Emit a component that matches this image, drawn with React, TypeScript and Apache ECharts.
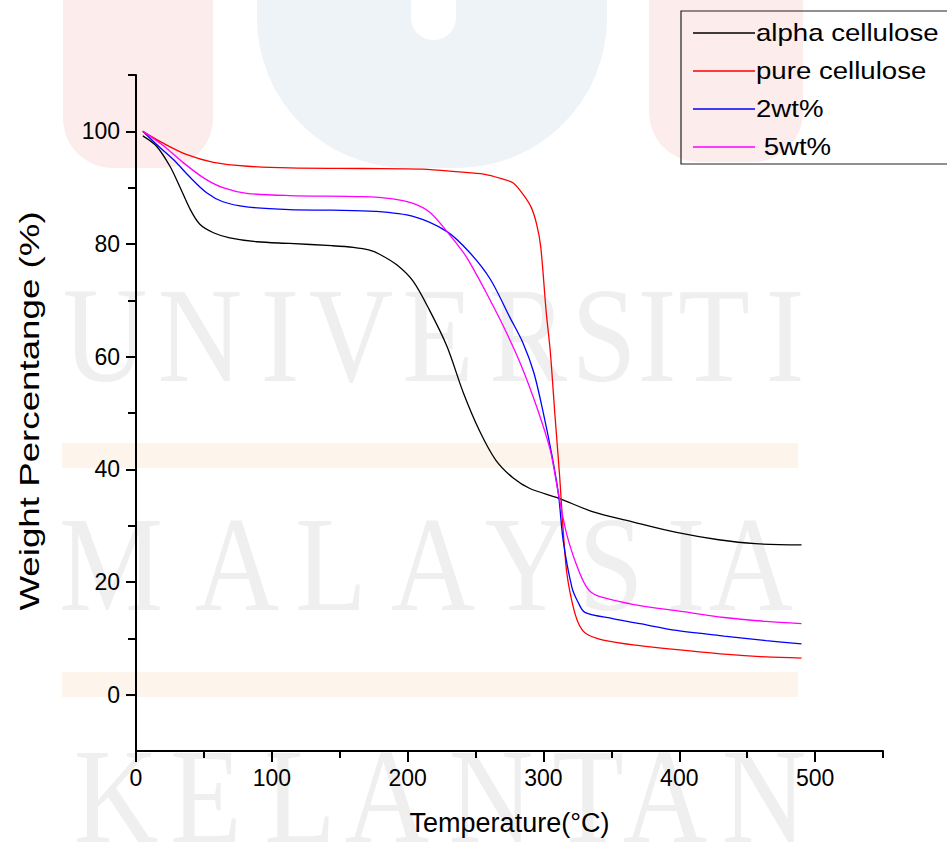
import React, { useEffect, useRef } from "react";
import * as echarts from "echarts";

// ---- Data ----
const SERIES_NAMES = ["alpha cellulose", "pure cellulose", "2wt%", " 5wt%"];
const SERIES_COLORS = ["#000000", "#ff0000", "#0000ff", "#ff00ff"];

const alphaTemp = [5, 15, 25, 32, 40, 47, 57, 69, 89, 113, 144, 160, 172, 180, 192, 204, 216, 229, 241, 253, 265, 278, 290, 311, 336, 367, 398, 429, 456, 490];
const alphaWeight = [99.2, 97.4, 93.8, 90.3, 86.1, 83.5, 82.0, 81.1, 80.4, 80.1, 79.7, 79.4, 78.9, 78.1, 76.3, 73.4, 68.3, 61.8, 53.6, 46.8, 41.6, 38.4, 36.6, 34.9, 32.5, 30.6, 28.8, 27.5, 26.8, 26.6];

const pureTemp = [5, 20, 37, 57, 82, 113, 167, 211, 238, 256, 269, 278, 285, 291, 295, 298, 302, 305, 308.5, 312, 314, 317, 321, 325.5, 331, 344, 371, 398, 433, 464, 490];
const pureWeight = [100, 97.9, 95.9, 94.5, 93.8, 93.5, 93.4, 93.3, 92.8, 92.4, 91.6, 90.8, 88.8, 86.5, 83.5, 79.5, 68.0, 61.0, 49.5, 38.5, 31.0, 22.0, 16.5, 12.8, 10.9, 9.7, 8.7, 8.0, 7.2, 6.7, 6.5];

const wt2Temp = [5, 15, 27.5, 40, 52, 64, 81.5, 113, 144, 176, 204, 229, 246, 261, 275, 285, 293, 300, 306, 311, 314.5, 321, 325.5, 330.5, 351, 371, 398, 433, 464, 490];
const wt2Weight = [100, 97.7, 95.0, 91.8, 89.1, 87.5, 86.6, 86.1, 86.0, 85.8, 84.9, 82.2, 78.4, 73.7, 67.1, 62.4, 57.1, 49.9, 42.8, 35.7, 27.4, 19.0, 16.4, 14.6, 13.5, 12.6, 11.4, 10.4, 9.6, 9.0];

const wt5Temp = [5, 20, 35, 50, 64, 81.5, 113, 167, 189, 204, 216.5, 229, 241, 246, 258, 270.5, 283, 295, 305, 311, 317, 325, 332, 339.5, 371, 398, 433, 464, 490];
const wt5Weight = [100, 97.5, 94.4, 91.7, 90.0, 89.0, 88.6, 88.4, 88.0, 87.2, 85.6, 82.2, 78.5, 76.6, 71.3, 65.4, 58.8, 51.1, 43.4, 35.7, 28.6, 22.6, 19.0, 17.6, 15.8, 14.9, 13.7, 13.0, 12.6];

const xMajorTicks = [0, 100, 200, 300, 400, 500];
const xMinorTicks = [50, 150, 250, 350, 450, 550];
const yMajorTicks = [0, 20, 40, 60, 80, 100];
const yMinorTicks = [10, 30, 50, 70, 90, 110];

const X_NAME = "Temperature(\u00B0C)";
const Y_NAME = "Weight Percentange (%)";

// Faint background watermark of the source document
const WATERMARK_WORDS = ["UNIVERSITI", "MALAYSIA", "KELANTAN"];

const FONT = "'Liberation Sans', Arial, Helvetica, sans-serif";

function pairs(t: number[], w: number[]) {
  return t.map((v, i) => [v, w[i]]);
}

export default function App() {
  const ref = useRef<HTMLDivElement>(null);

  useEffect(() => {
    if (!ref.current) return;
    const chart = echarts.init(ref.current, undefined, { renderer: "svg" });

    // watermark layout (decorative)
    const wmRows = [
      { word: WATERMARK_WORDS[0], y: 335, xs: [105, 200, 280, 351, 438, 528, 604, 657, 714, 785] },
      { word: WATERMARK_WORDS[1], y: 564, xs: [111, 237, 331, 433, 527, 611, 686, 751] },
      { word: WATERMARK_WORDS[2], y: 796, xs: [116, 206, 300, 387, 491, 588, 665, 764] },
    ];
    const wmText: any[] = [];
    wmRows.forEach((row) => {
      row.word.split("").forEach((ch, i) => {
        wmText.push({
          type: "text",
          x: row.xs[i],
          y: row.y,
          scaleX: 0.86,
          z: -10,
          silent: true,
          style: {
            text: ch,
            font: "136px 'Liberation Serif', 'Times New Roman', serif",
            fill: "#efefef",
            align: "center",
            verticalAlign: "middle",
          },
        });
      });
    });

    // legend drawn as graphic (box, short lines, labels)
    const legendRowsY = [33, 71, 109, 147];
    const legendEls: any[] = [
      {
        type: "rect",
        z: 20,
        silent: true,
        shape: { x: 681, y: 11, width: 300, height: 153 },
        style: { fill: "none", stroke: "#222", lineWidth: 1.2 },
      },
    ];
    SERIES_NAMES.forEach((name, i) => {
      legendEls.push({
        type: "line",
        z: 20,
        silent: true,
        shape: { x1: 693, y1: legendRowsY[i], x2: 755, y2: legendRowsY[i] },
        style: { stroke: SERIES_COLORS[i], lineWidth: 1.3 },
      });
      legendEls.push({
        type: "text",
        z: 20,
        silent: true,
        x: 756,
        y: legendRowsY[i],
        scaleX: 1.15,
        style: {
          text: name,
          font: `24px ${FONT}`,
          fill: "#000",
          align: "left",
          verticalAlign: "middle",
        },
      });
    });

    const yNameEl = {
      type: "text",
      z: 20,
      silent: true,
      x: 30,
      y: 411,
      rotation: Math.PI / 2,
      scaleX: 1.36,
      style: {
        text: Y_NAME,
        font: `27px ${FONT}`,
        fill: "#000",
        align: "center",
        verticalAlign: "middle",
      },
    };

    const graphic: any[] = [
      { type: "rect", z: -12, silent: true, shape: { x: 63, y: -30, width: 150, height: 198, r: [0, 0, 50, 50] }, style: { fill: "#fcecec" } },
      { type: "rect", z: -12, silent: true, shape: { x: 257, y: -30, width: 350, height: 198, r: [0, 0, 150, 150] }, style: { fill: "#eef3f8" } },
      { type: "rect", z: -11, silent: true, shape: { x: 411, y: -30, width: 45, height: 70, r: [0, 0, 22, 22] }, style: { fill: "#ffffff" } },
      { type: "rect", z: -12, silent: true, shape: { x: 649, y: -30, width: 154, height: 192, r: [0, 0, 50, 50] }, style: { fill: "#fcecec" } },
      { type: "rect", z: -12, silent: true, shape: { x: 62, y: 443, width: 736, height: 25 }, style: { fill: "#fdf4ec" } },
      { type: "rect", z: -12, silent: true, shape: { x: 62, y: 672, width: 736, height: 25 }, style: { fill: "#fdf4ec" } },
      ...wmText,
      ...legendEls,
      yNameEl,
    ];

    const datasets = [
      pairs(alphaTemp, alphaWeight),
      pairs(pureTemp, pureWeight),
      pairs(wt2Temp, wt2Weight),
      pairs(wt5Temp, wt5Weight),
    ];

    const axisLineStyle = { color: "#000", width: 2 };

    chart.setOption({
      animation: false,
      backgroundColor: "#ffffff",
      graphic,
      grid: { left: 136, right: 64, top: 75, bottom: 97, containLabel: false },
      xAxis: [
        {
          type: "value",
          min: 0,
          max: 550,
          name: X_NAME,
          nameLocation: "middle",
          nameGap: 58,
          nameTextStyle: { fontSize: 27, color: "#000", fontFamily: FONT },
          axisLine: { show: true, onZero: false, lineStyle: axisLineStyle },
          axisTick: { show: true, length: 11, lineStyle: axisLineStyle, customValues: xMajorTicks },
          axisLabel: { fontSize: 23, color: "#000", fontFamily: FONT, margin: 15, customValues: xMajorTicks },
          splitLine: { show: false },
        },
        {
          type: "value",
          min: 0,
          max: 550,
          position: "bottom",
          axisLine: { show: false, onZero: false },
          axisTick: { show: true, length: 7, lineStyle: axisLineStyle, customValues: xMinorTicks },
          axisLabel: { show: false },
          splitLine: { show: false },
        },
      ],
      yAxis: [
        {
          type: "value",
          min: -10,
          max: 110,
          axisLine: { show: true, onZero: false, lineStyle: axisLineStyle },
          axisTick: { show: true, length: 10, lineStyle: axisLineStyle, customValues: yMajorTicks },
          axisLabel: { fontSize: 23, color: "#000", fontFamily: FONT, margin: 16, customValues: yMajorTicks },
          splitLine: { show: false },
        },
        {
          type: "value",
          min: -10,
          max: 110,
          position: "left",
          axisLine: { show: false, onZero: false },
          axisTick: { show: true, length: 8, lineStyle: axisLineStyle, customValues: yMinorTicks },
          axisLabel: { show: false },
          splitLine: { show: false },
        },
      ],
      series: SERIES_NAMES.map((name, i) => ({
        name,
        type: "line",
        xAxisIndex: 0,
        yAxisIndex: 0,
        data: datasets[i],
        showSymbol: false,
        symbol: "none",
        smooth: 0.3,
        lineStyle: { color: SERIES_COLORS[i], width: 1.3 },
        itemStyle: { color: SERIES_COLORS[i] },
        z: 3,
      })),
    });

    return () => chart.dispose();
  }, []);

  return (
    <div
      ref={ref}
      style={{ position: "absolute", left: 0, top: 0, width: 947, height: 848, background: "#fff" }}
    />
  );
}
